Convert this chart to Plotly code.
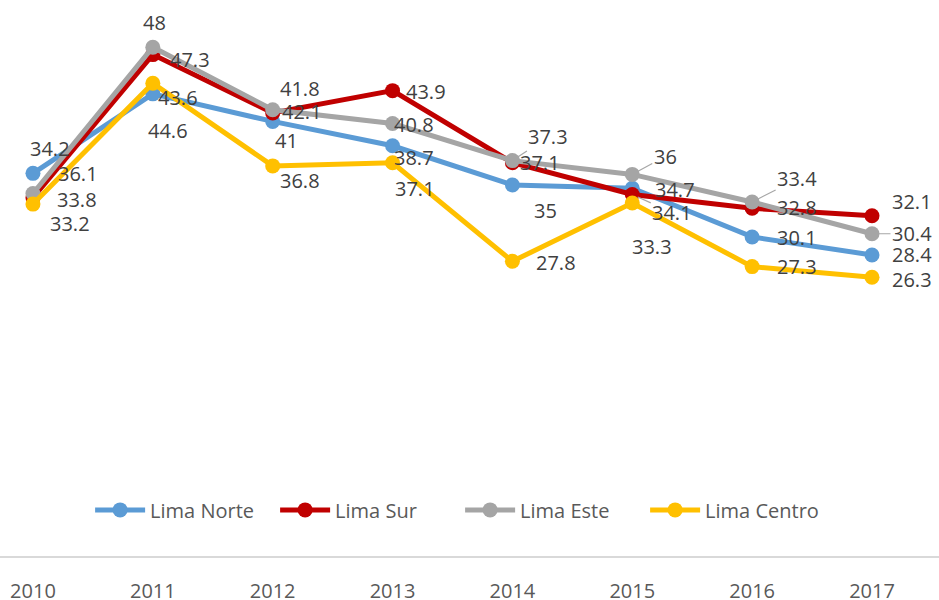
import plotly.graph_objects as go

years = [2010, 2011, 2012, 2013, 2014, 2015, 2016, 2017]
year_labels = ["2010", "2011", "2012", "2013", "2014", "2015", "2016", "2017"]

lima_norte = [36.1, 43.6, 41.0, 38.7, 35.0, 34.7, 30.1, 28.4]
lima_sur = [33.8, 47.3, 41.8, 43.9, 37.1, 34.1, 32.8, 32.1]
lima_este = [34.2, 48.0, 42.1, 40.8, 37.3, 36.0, 33.4, 30.4]
lima_centro = [33.2, 44.6, 36.8, 37.1, 27.8, 33.3, 27.3, 26.3]

series = [
    ("Lima Norte", lima_norte, "#5B9BD5"),
    ("Lima Sur", lima_sur, "#C00000"),
    ("Lima Este", lima_este, "#A5A5A5"),
    ("Lima Centro", lima_centro, "#FFC000"),
]

# label offsets in pixels (dx right, dy down) and whether a leader line is drawn
label_offsets = {
    "Lima Norte": [(45, 0), (25, 4), (14, 19), (21, 12), (33, 25), (43, 1), (45, 1), (40, 0)],
    "Lima Sur": [(44, 2), (37, 5), (27, -24), (33, 1), (28, 0), (40, 18), (45, -1), (40, -14)],
    "Lima Este": [(17, -45), (2, -25), (29, 2), (21, 1), (36, -24), (33, -18), (45, -23), (40, 0)],
    "Lima Centro": [(37, 19), (15, 47), (27, 15), (22, 26), (44, 1), (20, 43), (45, 0), (40, 2)],
}
leaders = {
    ("Lima Norte", 2011), ("Lima Norte", 2013), ("Lima Este", 2014),
    ("Lima Este", 2015), ("Lima Sur", 2015), ("Lima Este", 2016), ("Lima Este", 2017),
}

FONT = "Open Sans"
fig = go.Figure()
annotations = []
for name, vals, color in series:
    fig.add_trace(go.Scatter(
        x=years, y=vals, name=name, mode="lines+markers",
        line=dict(color=color, width=5),
        marker=dict(color=color, size=15),
    ))
    for (yr, v, (dx, dy)) in zip(years, vals, label_offsets[name]):
        txt = f"{v:g}"
        if (name, yr) in leaders:
            annotations.append(dict(
                x=yr, y=v, xref="x", yref="y", text=txt, showarrow=True,
                arrowhead=0, arrowwidth=1.2, arrowcolor="#A6A6A6", standoff=6,
                ax=dx, ay=dy, font=dict(family=FONT, size=20, color="#404040"),
            ))
        else:
            annotations.append(dict(
                x=yr, y=v, xref="x", yref="y", text=txt, showarrow=False,
                xshift=dx, yshift=-dy, font=dict(family=FONT, size=20, color="#404040"),
            ))

fig.update_layout(
    width=939, height=600,
    margin=dict(l=0, r=0, t=26, b=44, autoexpand=False),
    paper_bgcolor="white", plot_bgcolor="white",
    font=dict(family=FONT, size=20, color="#595959"),
    showlegend=True,
    legend=dict(orientation="h", x=0.49, y=0.087, xanchor="center", yanchor="middle",
                font=dict(family=FONT, size=20, color="#595959"),
                bgcolor="rgba(0,0,0,0)", itemwidth=50,
                entrywidth=120, entrywidthmode="pixels"),
    annotations=annotations,
    xaxis=dict(range=[2009.725, 2017.559], tickvals=years, ticktext=year_labels,
               showgrid=False, zeroline=False, showline=True, linecolor="#D9D9D9",
               linewidth=2, ticks="", ticklabelstandoff=16, automargin=False,
               tickfont=dict(family=FONT, size=20, color="#595959")),
    yaxis=dict(range=[0, 50], showgrid=False, zeroline=False, showticklabels=False,
               showline=False, automargin=False),
)

fig.write_html("out.html", config={"displayModeBar": False},
               post_script="document.body.style.margin='0';")
